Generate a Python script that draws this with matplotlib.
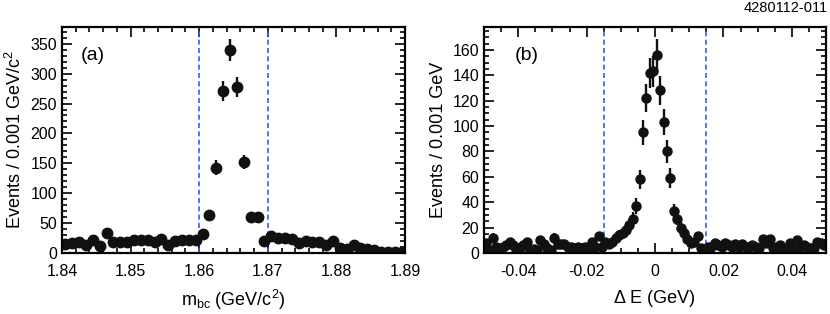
import numpy as np
import matplotlib.pyplot as plt
from matplotlib.ticker import MultipleLocator

plt.rcParams['font.family'] = ['Liberation Sans', 'DejaVu Sans']
plt.rcParams['mathtext.fontset'] = 'custom'
plt.rcParams['mathtext.rm'] = 'Liberation Sans'
plt.rcParams['mathtext.it'] = 'Liberation Sans:italic'

# (a) m_bc, 0.001 GeV/c^2 bins from 1.84 to 1.89
mbc_edges = (1.84, 1.89)
mbc_counts = [15, 17, 19, 14, 22, 12, 33, 18, 18, 18,
              21, 21, 22, 18, 24, 13, 20, 22, 22, 22,
              32, 63, 143, 271, 339, 278, 152, 61, 61, 20,
              29, 25, 25, 23, 17, 20, 18, 19, 14, 20,
              9, 7, 14, 8, 6, 5, 1, 1, 1, 1]

# (b) Delta E, 0.001 GeV bins from -0.05 to 0.05
de_edges = (-0.05, 0.05)
de_counts = [8, 2, 12, 5, 4, 5, 6, 9, 6, 2,
             4, 6, 9, 2, 3, 2, 10, 7, 4, 2,
             12, 7, 7, 7, 5, 5, 4, 5, 4, 5,
             4, 9, 5, 13, 5, 9, 7, 9, 12, 14,
             16, 18, 22, 27, 37, 58, 95, 122, 142, 143,
             156, 128, 103, 80, 59, 33, 27, 20, 16, 11,
             8, 9, 13, 4, 3, 5, 5, 8, 6, 5,
             8, 6, 5, 7, 5, 7, 5, 5, 6, 5,
             4, 11, 8, 11, 4, 5, 6, 3, 1, 8,
             2, 10, 5, 6, 5, 4, 4, 9, 8, 6]

signal_a = [1.86, 1.87]
signal_b = [-0.015, 0.015]


def centers(edges, n):
    w = (edges[1] - edges[0]) / n
    return edges[0] + w * (np.arange(n) + 0.5)


fig = plt.figure(figsize=(8.3, 3.14), dpi=100)
ax1 = fig.add_axes([62/830, 61/314, 343/830, 226/314])
ax2 = fig.add_axes([484/830, 61/314, 342/830, 226/314])

blue = '#3a5af5'

# panel (a)
y = np.array(mbc_counts, dtype=float)
ax1.errorbar(centers(mbc_edges, len(y)), y, yerr=np.sqrt(y), fmt='o',
             color='#111111', ms=7.5, elinewidth=1.7, capsize=0)
for v in signal_a:
    ax1.axvline(v, color=blue, ls=(0, (3, 2)), lw=1.2)
ax1.set_xlim(*mbc_edges)
ax1.set_ylim(0, 378)
ax1.xaxis.set_minor_locator(MultipleLocator(0.002))
ax1.yaxis.set_major_locator(MultipleLocator(50))
ax1.yaxis.set_minor_locator(MultipleLocator(10))
ax1.set_xticks([1.84, 1.85, 1.86, 1.87, 1.88, 1.89])
ax1.set_xticklabels(['1.84', '1.85', '1.86', '1.87', '1.88', '1.89'])
ax1.set_xlabel('m$_{\\rm bc}$ (GeV/c$^2$)', fontsize=13, labelpad=6)
ax1.set_ylabel('Events / 0.001 GeV/c$^2$', fontsize=13, labelpad=4)
ax1.text(0.055, 0.91, '(a)', transform=ax1.transAxes, fontsize=14, va='top')

# panel (b)
y = np.array(de_counts, dtype=float)
ax2.errorbar(centers(de_edges, len(y)), y, yerr=np.sqrt(y), fmt='o',
             color='#111111', ms=6.5, elinewidth=1.7, capsize=0)
for v in signal_b:
    ax2.axvline(v, color=blue, ls=(0, (3, 2)), lw=1.2)
ax2.set_xlim(*de_edges)
ax2.set_ylim(0, 178)
ax2.xaxis.set_minor_locator(MultipleLocator(0.005))
ax2.yaxis.set_major_locator(MultipleLocator(20))
ax2.yaxis.set_minor_locator(MultipleLocator(5))
ax2.set_xticks([-0.04, -0.02, 0, 0.02, 0.04])
ax2.set_xticklabels(['-0.04', '-0.02', '0', '0.02', '0.04'])
ax2.set_xlabel('\u0394 E (GeV)', fontsize=13, labelpad=8)
ax2.set_ylabel('Events / 0.001 GeV', fontsize=13, labelpad=4)
ax2.text(0.09, 0.91, '(b)', transform=ax2.transAxes, fontsize=14, va='top')

for ax in (ax1, ax2):
    ax.tick_params(which='both', direction='in', top=True, right=True,
                   labelsize=11.5, width=1.2)
    ax.tick_params(which='major', length=7)
    ax.tick_params(which='minor', length=3.5)
    ax.tick_params(axis='x', pad=8)
    for s in ax.spines.values():
        s.set_linewidth(1.6)

fig.text(828/830, 1 - 8/314, '4280112-011', ha='right', va='center', fontsize=10.5)

fig.savefig('out.png', dpi=100)
